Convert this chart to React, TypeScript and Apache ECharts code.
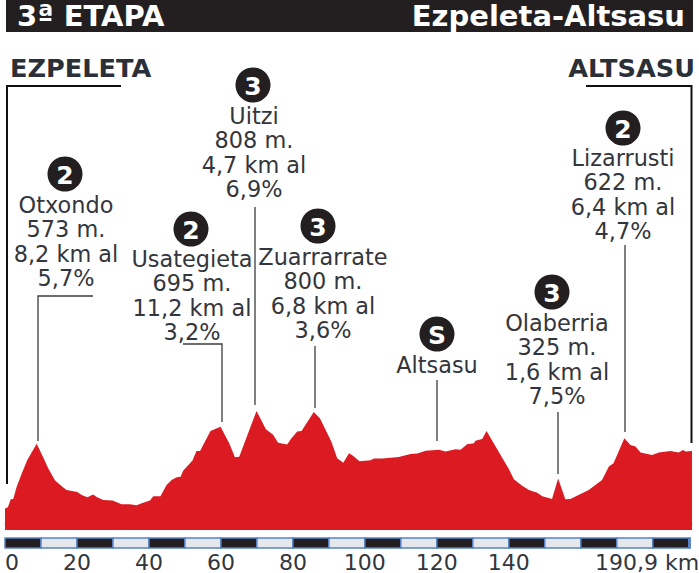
import React, { useEffect, useRef } from "react";
import * as echarts from "echarts";

const STAGE_TITLE = "3ª ETAPA";
const STAGE_ROUTE = "Ezpeleta-Altsasu";
const START_NAME = "EZPELETA";
const END_NAME = "ALTSASU";
const TOTAL_KM = 190.9;
const TICK_KM = [0, 20, 40, 60, 80, 100, 120, 140];
const LAST_LABEL = "190,9 km";

const profileKm = [
  0, 0.8, 1.6, 2.3, 3.2, 4.6, 6.2, 8.8, 10.6, 12, 13.9, 16.2, 17.1, 20.1, 21.3, 22.9, 24.5, 25.5, 27.3, 29.9,
  32.4, 34.7, 36.6, 38, 40.3, 41.2, 43.2, 44.9, 46.3, 47.7, 48.8, 49.5, 52.1, 53.2, 54.2, 57.1, 59.9, 62.3, 63.9, 65.1,
  69.9, 72.5, 74.5, 75.9, 78.4, 79.6, 81.2, 82.4, 85.8, 87.5, 90.7, 92.3, 94, 95.6, 96.7, 98.5, 101.6, 102.5, 104.8, 109.4,
  112.7, 114.6, 116.9, 120.6, 122.4, 125.2, 126.6, 128.4, 130.3, 130.7, 132.6, 133.8, 140, 141.4, 143.7, 145.6, 147.9, 149.3, 152, 153.7,
  155.7, 157.1, 162.2, 165.9, 167.8, 169.1, 172.1, 173.8, 175.2, 176.6, 179.8, 181.7, 184.9, 187.2, 188.4, 189.1, 190.9,
];
const profileM = [
  110, 119, 176, 179, 262, 357, 457, 573, 476, 398, 310, 260, 243, 229, 207, 191, 210, 193, 172, 167,
  141, 141, 134, 148, 167, 198, 198, 279, 315, 334, 338, 381, 453, 522, 522, 665, 695, 576, 476, 481,
  808, 676, 638, 581, 567, 612, 660, 665, 800, 755, 588, 469, 438, 505, 488, 448, 455, 467, 467, 479,
  500, 503, 524, 531, 517, 534, 531, 569, 576, 595, 607, 665, 393, 319, 274, 243, 224, 198, 179, 325,
  176, 179, 243, 315, 410, 434, 612, 565, 553, 510, 493, 510, 522, 510, 529, 517, 522,
];

const climbBadges = ["2", "2", "3", "3", "S", "3", "2"];
const climbTexts = [
  ["Otxondo", "573 m.", "8,2 km al", "5,7%"],
  ["Usategieta", "695 m.", "11,2 km al", "3,2%"],
  ["Uitzi", "808 m.", "4,7 km al", "6,9%"],
  ["Zuarrarrate", "800 m.", "6,8 km al", "3,6%"],
  ["Altsasu"],
  ["Olaberria", "325 m.", "1,6 km al", "7,5%"],
  ["Lizarrusti", "622 m.", "6,4 km al", "4,7%"],
];

// layout of the annotations, in page pixels
const badgePos = [[65, 174], [191, 229], [253, 85], [318, 226], [437, 334], [552, 292], [623, 128]];
const textPos = [[66, 205], [192, 259], [254, 116], [323, 257], [437, 365], [557, 323], [623, 158]];
const leaders = [
  [[93, 296], [38, 296], [38, 441]],
  [[183, 344], [222, 344], [222, 422]],
  [[255, 207], [255, 405]],
  [[315, 346], [315, 408]],
  [[437, 380], [437, 441]],
  [[558, 412], [558, 474]],
  [[625, 245], [625, 432]],
];

const TEXT = "#33363c";
const DARK = "#231f20";
const FONT = '"DejaVu Sans", sans-serif';

function buildSegments() {
  const out: number[][] = [];
  for (let s = 0; s < TOTAL_KM; s += 10) out.push([s, Math.min(s + 10, TOTAL_KM - 0.5)]);
  return out;
}

export default function App() {
  const ref = useRef<HTMLDivElement>(null);
  useEffect(() => {
    document.body.style.margin = "0";
    document.body.style.overflow = "hidden";
    const chart = echarts.init(ref.current!, null, { renderer: "svg" });
    const graphic: any[] = [
      { type: "rect", shape: { x: 6, y: 0, width: 687, height: 32 }, style: { fill: DARK } },
      { type: "text", style: { text: STAGE_TITLE, x: 17, y: 16, font: `bold 29px ${FONT}`, fill: "#fff", verticalAlign: "middle" } },
      { type: "text", style: { text: STAGE_ROUTE, x: 685, y: 16, font: `bold 29px ${FONT}`, fill: "#fff", align: "right", verticalAlign: "middle" } },
      { type: "text", style: { text: START_NAME, x: 10, y: 68, font: `bold 25.6px ${FONT}`, fill: "#2b2f38", verticalAlign: "middle" } },
      { type: "text", style: { text: END_NAME, x: 695, y: 68, font: `bold 25.6px ${FONT}`, fill: "#2b2f38", align: "right", verticalAlign: "middle" } },
      { type: "polyline", shape: { points: [[121, 86], [7, 86], [7, 484]] }, style: { stroke: "#111", lineWidth: 2, fill: "none" } },
      { type: "polyline", shape: { points: [[586, 86], [691.5, 86], [691.5, 443]] }, style: { stroke: "#111", lineWidth: 2, fill: "none" } },
      { type: "text", style: { text: LAST_LABEL, x: 595, y: 562, font: `22px ${FONT}`, fill: TEXT, verticalAlign: "middle" } },
    ];
    leaders.forEach((pts) => {
      graphic.push({ type: "polyline", shape: { points: pts }, style: { stroke: "#3c3c3c", lineWidth: 1.3, fill: "none" } });
    });
    climbBadges.forEach((b, i) => {
      const [cx, cy] = badgePos[i];
      graphic.push({ type: "circle", shape: { cx, cy, r: 17.5 }, style: { fill: DARK } });
      graphic.push({ type: "text", style: { text: b, x: cx, y: cy + 1, font: `bold 25px ${FONT}`, fill: "#fff", align: "center", verticalAlign: "middle" } });
      climbTexts[i].forEach((line, j) => {
        graphic.push({ type: "text", style: { text: line, x: textPos[i][0], y: textPos[i][1] + j * 24.3, font: `22.4px ${FONT}`, fill: TEXT, align: "center", verticalAlign: "middle" } });
      });
    });

    chart.setOption({
      animation: false,
      grid: [
        { left: 5, top: 400, width: 687, height: 130 },
        { left: 5, top: 538, width: 687, height: 10 },
      ],
      xAxis: [
        { type: "value", gridIndex: 0, min: 0, max: TOTAL_KM, splitLine: { show: false }, axisTick: { show: false }, axisLabel: { show: false }, axisLine: { show: true, lineStyle: { color: "#f2aeb2", width: 1.5 } } },
        {
          type: "value", gridIndex: 1, min: 0, max: TOTAL_KM, splitLine: { show: false }, axisTick: { show: false }, axisLine: { show: false },
          axisLabel: { customValues: TICK_KM, alignMinLabel: "left", showMaxLabel: true, margin: 3, fontFamily: "DejaVu Sans", fontSize: 22, color: TEXT, padding: [0, 0, 0, 0] },
        },
      ],
      yAxis: [
        { type: "value", gridIndex: 0, min: -42.9, max: 885.7, show: false },
        { type: "value", gridIndex: 1, min: 0, max: 1, show: false },
      ],
      series: [
        {
          type: "line", xAxisIndex: 0, yAxisIndex: 0, silent: true, symbol: "none",
          data: profileKm.map((k, i) => [k, profileM[i]]),
          lineStyle: { width: 0 }, areaStyle: { color: "#db1a22", opacity: 1, origin: "start" },
        },
        {
          type: "custom", xAxisIndex: 1, yAxisIndex: 1, silent: true, clip: false,
          data: buildSegments(),
          renderItem: (params: any, api: any) => {
            const a = api.coord([api.value(0), 1]);
            const b = api.coord([api.value(1), 0]);
            return {
              type: "rect",
              shape: { x: a[0], y: a[1], width: b[0] - a[0], height: b[1] - a[1] },
              style: { fill: params.dataIndex % 2 === 0 ? DARK : "#e4e8ec", stroke: "#5a82c2", lineWidth: 1.5 },
            };
          },
        },
      ],
      graphic,
    });
    return () => chart.dispose();
  }, []);
  return <div ref={ref} style={{ width: 699, height: 573 }} />;
}
